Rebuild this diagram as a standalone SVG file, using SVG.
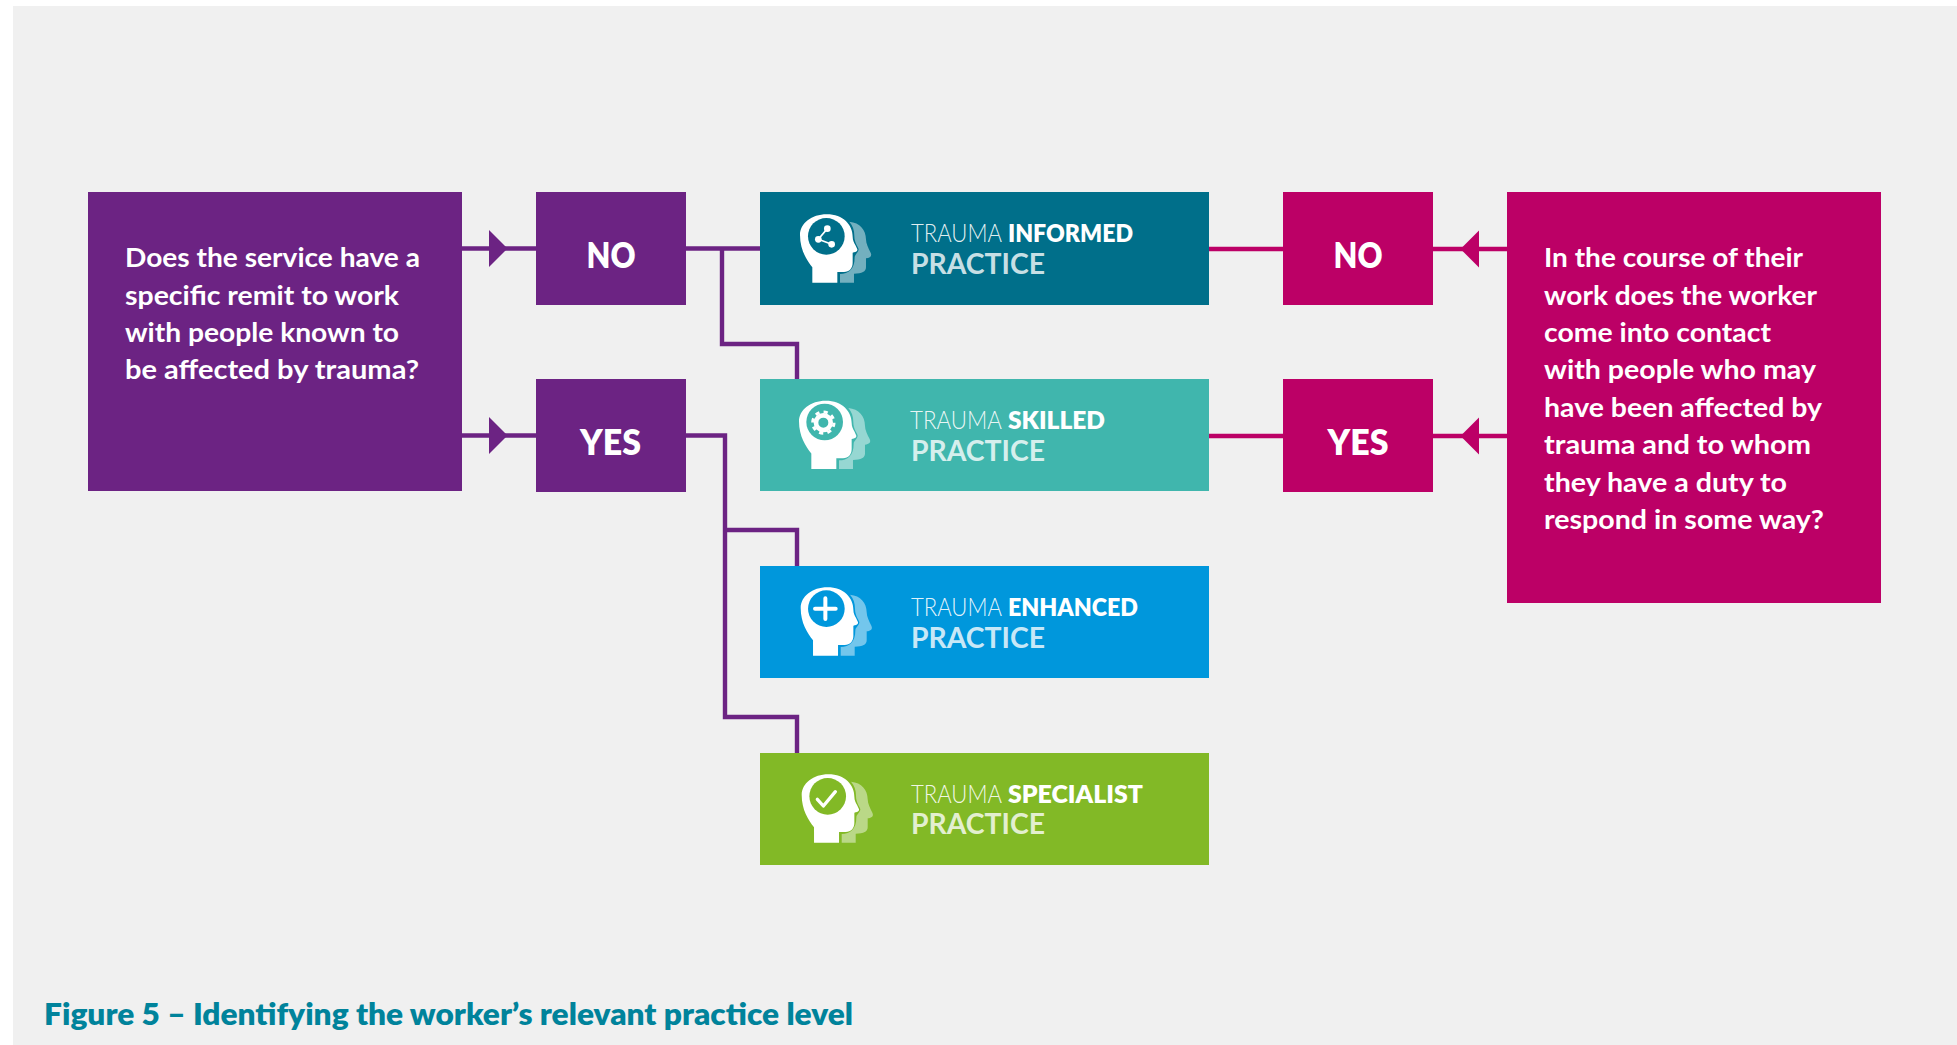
<svg xmlns="http://www.w3.org/2000/svg" xmlns:xlink="http://www.w3.org/1999/xlink" width="1957" height="1045" viewBox="0 0 1957 1045">
<style>
.purple{fill:#6c2383}.pink{fill:#bc0066}
.q{font:700 27px Lato,"Noto Sans",sans-serif;fill:#fff}
.yn{font:800 36px Lato,"Noto Sans",sans-serif;fill:#fff;text-anchor:middle}
.t1{font:300 25px Lato,"Noto Sans",sans-serif;fill:#fff;fill-opacity:.9}
.b{font:800 25px Lato,"Noto Sans",sans-serif;fill:#fff}
.t2{font:700 28.5px Lato,"Noto Sans",sans-serif;fill:#fff;fill-opacity:.8}
.cap{font:800 30px Lato,"Noto Sans",sans-serif;fill:#00839b}
.cp{fill:none;stroke:#6c2383;stroke-width:4.4}
.cm{fill:none;stroke:#bc0066;stroke-width:4.4}
.mp{marker-mid:url(#ap)}.mm{marker-mid:url(#am)}
.glyph{fill:none;stroke:#fff;stroke-linecap:round;stroke-linejoin:round}
</style>
<defs>
<marker id="ap" markerUnits="userSpaceOnUse" markerWidth="20" markerHeight="38" refX="0" refY="18.5" orient="auto"><polygon points="0,0 18.5,18.5 0,37" fill="#6c2383"/></marker>
<marker id="am" markerUnits="userSpaceOnUse" markerWidth="20" markerHeight="38" refX="0" refY="18.5" orient="auto"><polygon points="0,0 18.5,18.5 0,37" fill="#bc0066"/></marker>
<path id="head" d="M97 308V262C80 240 60 210 60 165C60 130 95 103 140 103C190 103 218 135 218 170C218 180 222 188 226 195L232 208C233 213 228 216 222 217L218 218V248C218 265 208 275 192 276L172 276V308Z" fill="#fff"/>
<path id="back" d="M208 125C240 128 258 150 258 178C258 190 265 205 272 218C277 228 270 234 258 235V262C258 275 246 281 222 281V308H180V282C206 282 224 268 224 232C224 224 235 218 236 208C234 200 223 188 223 168C223 150 218 136 208 125Z" fill="#fff" fill-opacity=".45"/>
</defs>
<rect id="background" x="13" y="6" width="1944" height="1039" fill="#f0f0f0"/>
<g id="connectors">
<path class="cp mp" d="M462 248.5H489H536"/>
<path class="cp mp" d="M462 435.5H489H536"/>
<path class="cp" d="M686 248.5H760M722 248.5V344H797V379"/>
<path class="cp" d="M686 435.5H725V717H797V753M725 530H797V566"/>
<path class="cm mm" d="M1507 249H1479H1433"/>
<path class="cm mm" d="M1507 436H1479H1433"/>
<path class="cm" d="M1209 249H1283M1209 436H1283"/>
</g>
<g id="q-service">
<rect class="purple" x="88" y="192" width="374" height="299"/>
<text class="q" x="125" y="267" lengthAdjust="spacingAndGlyphs" textLength="295">Does the service have a</text>
<text class="q" x="125" y="304.5" lengthAdjust="spacingAndGlyphs" textLength="274">specific remit to work</text>
<text class="q" x="125" y="342" lengthAdjust="spacingAndGlyphs" textLength="274">with people known to</text>
<text class="q" x="125" y="379" lengthAdjust="spacingAndGlyphs" textLength="294">be affected by trauma?</text>
</g>
<g id="no-left"><rect class="purple" x="536" y="192" width="150" height="113"/><text class="yn" x="611" y="267.5" lengthAdjust="spacingAndGlyphs" textLength="49">NO</text></g>
<g id="yes-left"><rect class="purple" x="536" y="379" width="150" height="113"/><text class="yn" x="610.5" y="454.5" lengthAdjust="spacingAndGlyphs" textLength="61">YES</text></g>
<g id="informed">
<rect x="760" y="192" width="449" height="113" fill="#006f8a"/>
<g transform="translate(780 180) scale(.3333)"><use xlink:href="#back" href="#back"/><use xlink:href="#head" href="#head"/><circle cx="139" cy="169" r="55" fill="#006f8a"/>
<path class="glyph" stroke-width="5" d="M142 146L115 178L155 193"/><g fill="#fff"><circle cx="142" cy="146" r="10"/><circle cx="115" cy="178" r="10"/><circle cx="155" cy="193" r="10"/></g></g>
<text class="t1" x="911" y="242" lengthAdjust="spacingAndGlyphs" textLength="91">TRAUMA</text><text class="b" x="1008" y="242" lengthAdjust="spacingAndGlyphs" textLength="125">INFORMED</text>
<text class="t2" x="911" y="274" lengthAdjust="spacingAndGlyphs" textLength="134">PRACTICE</text>
</g>
<g id="skilled">
<rect x="760" y="379" width="449" height="112" fill="#40b6ad"/>
<g transform="translate(779 366.3) scale(.3333)"><use xlink:href="#back" href="#back"/><use xlink:href="#head" href="#head"/><circle cx="137" cy="167" r="55" fill="#40b6ad"/>
<circle cx="133" cy="169" r="22" fill="none" stroke="#fff" stroke-width="14"/><circle cx="133" cy="169" r="32" fill="none" stroke="#fff" stroke-width="9" stroke-dasharray="12.5 12.6"/></g>
<text class="t1" x="910" y="429" lengthAdjust="spacingAndGlyphs" textLength="92">TRAUMA</text><text class="b" x="1008" y="429" lengthAdjust="spacingAndGlyphs" textLength="97">SKILLED</text>
<text class="t2" x="911" y="461" lengthAdjust="spacingAndGlyphs" textLength="134">PRACTICE</text>
</g>
<g id="enhanced">
<rect x="760" y="566" width="449" height="112" fill="#0097dc"/>
<g transform="translate(780.7 553) scale(.3333)"><use xlink:href="#back" href="#back"/><use xlink:href="#head" href="#head"/><circle cx="137" cy="167" r="55" fill="#0097dc"/>
<path class="glyph" stroke-width="12" d="M103 167H165M134 136V198"/></g>
<text class="t1" x="911" y="616" lengthAdjust="spacingAndGlyphs" textLength="91">TRAUMA</text><text class="b" x="1008" y="616" lengthAdjust="spacingAndGlyphs" textLength="130">ENHANCED</text>
<text class="t2" x="911" y="648" lengthAdjust="spacingAndGlyphs" textLength="134">PRACTICE</text>
</g>
<g id="specialist">
<rect x="760" y="753" width="449" height="112" fill="#82b926"/>
<g transform="translate(781.7 740) scale(.3333)"><use xlink:href="#back" href="#back"/><use xlink:href="#head" href="#head"/><circle cx="138" cy="169" r="55" fill="#82b926"/>
<path class="glyph" stroke-width="10" d="M107 178L125 198L161 155"/></g>
<text class="t1" x="911" y="803" lengthAdjust="spacingAndGlyphs" textLength="91">TRAUMA</text><text class="b" x="1008" y="803" lengthAdjust="spacingAndGlyphs" textLength="135">SPECIALIST</text>
<text class="t2" x="911" y="834" lengthAdjust="spacingAndGlyphs" textLength="134">PRACTICE</text>
</g>
<g id="no-right"><rect class="pink" x="1283" y="192" width="150" height="113"/><text class="yn" x="1358" y="267.5" lengthAdjust="spacingAndGlyphs" textLength="49">NO</text></g>
<g id="yes-right"><rect class="pink" x="1283" y="379" width="150" height="113"/><text class="yn" x="1358" y="454.5" lengthAdjust="spacingAndGlyphs" textLength="61">YES</text></g>
<g id="q-worker">
<rect class="pink" x="1507" y="192" width="374" height="411"/>
<text class="q" x="1544" y="267" lengthAdjust="spacingAndGlyphs" textLength="259">In the course of their</text>
<text class="q" x="1544" y="304.5" lengthAdjust="spacingAndGlyphs" textLength="273">work does the worker</text>
<text class="q" x="1544" y="342" lengthAdjust="spacingAndGlyphs" textLength="227">come into contact</text>
<text class="q" x="1544" y="379" lengthAdjust="spacingAndGlyphs" textLength="272">with people who may</text>
<text class="q" x="1544" y="416.5" lengthAdjust="spacingAndGlyphs" textLength="278">have been affected by</text>
<text class="q" x="1544" y="454" lengthAdjust="spacingAndGlyphs" textLength="267">trauma and to whom</text>
<text class="q" x="1544" y="491.5" lengthAdjust="spacingAndGlyphs" textLength="243">they have a duty to</text>
<text class="q" x="1544" y="529" lengthAdjust="spacingAndGlyphs" textLength="280">respond in some way?</text>
</g>
<text id="caption" class="cap" x="44" y="1025" lengthAdjust="spacingAndGlyphs" textLength="809">Figure 5 – Identifying the worker’s relevant practice level</text>
</svg>
